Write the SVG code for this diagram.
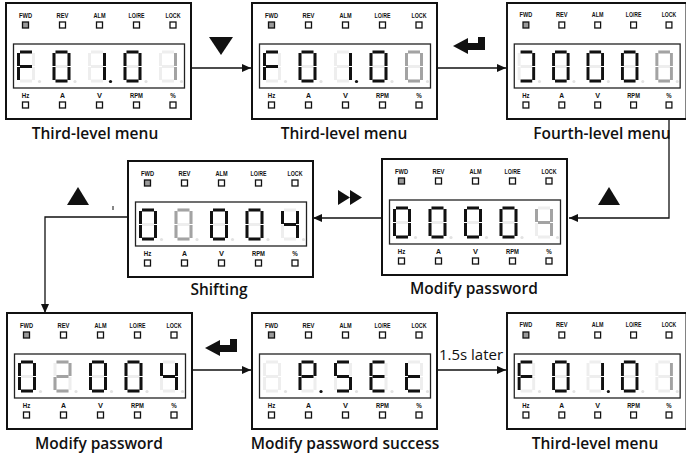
<svg xmlns="http://www.w3.org/2000/svg" xmlns:xlink="http://www.w3.org/1999/xlink" width="686" height="458" viewBox="0 0 686 458">
<style>
.pf{fill:#fff;stroke:#111;stroke-width:2}
.disp{fill:#fff;stroke:#222;stroke-width:1.3}
.led{fill:#fff;stroke:#111;stroke-width:1.3}
.ledon{fill:#9a9a9a;stroke:#111;stroke-width:1.3}
.ind{font-family:"Liberation Sans",Arial,sans-serif;font-weight:bold;font-size:7.5px;fill:#111;text-anchor:middle}
.k{fill:#111}
.m{fill:#a3a3a3}
.cap{font-family:"Open Sans","Liberation Sans",sans-serif;font-weight:600;font-size:15.5px;fill:#111;text-anchor:middle}
.lbl{font-family:"Open Sans","Liberation Sans",sans-serif;font-size:15px;fill:#111;text-anchor:middle}
.cn{fill:none;stroke:#111;stroke-width:1.3}
.sym{fill:#111}
</style>
<defs>
<marker id="ah" markerUnits="userSpaceOnUse" markerWidth="10" markerHeight="9" refX="9" refY="4" orient="auto">
<path d="M0,0 L9,4 L0,8 Z" fill="#111"/>
</marker>
<rect id="sa" x="3" y="0" width="12" height="3"/>
<rect id="sb" x="15" y="2.5" width="3" height="13"/>
<rect id="sc" x="15" y="16.5" width="3" height="13"/>
<rect id="sd" x="3" y="29" width="12" height="3"/>
<rect id="se" x="0" y="16.5" width="3" height="13"/>
<rect id="sf" x="0" y="2.5" width="3" height="13"/>
<rect id="sg" x="3" y="14.5" width="12" height="3"/>
<circle id="sp" cx="22.5" cy="31" r="1.6"/>
<g id="d8" fill="#eeeeee">
<use href="#sa"/><use href="#sb"/><use href="#sc"/><use href="#sd"/><use href="#se"/><use href="#sf"/><use href="#sg"/><use href="#sp" fill="#e2e2e2"/>
</g>
<g id="frame">
<rect class="pf" x="0" y="0" width="185" height="116"/>
<text class="ind" x="19.5" y="14.5" textLength="13" lengthAdjust="spacingAndGlyphs">FWD</text>
<text class="ind" x="56.5" y="14.5" textLength="12" lengthAdjust="spacingAndGlyphs">REV</text>
<text class="ind" x="93.5" y="14.5" textLength="12" lengthAdjust="spacingAndGlyphs">ALM</text>
<text class="ind" x="130.5" y="14.5" textLength="16" lengthAdjust="spacingAndGlyphs">LO/RE</text>
<text class="ind" x="167" y="14.5" textLength="15" lengthAdjust="spacingAndGlyphs">LOCK</text>
<rect class="ledon" x="16.5" y="19" width="6" height="6"/>
<rect class="led" x="53.5" y="19" width="6" height="6"/>
<rect class="led" x="90.5" y="19" width="6" height="6"/>
<rect class="led" x="127.5" y="19" width="6" height="6"/>
<rect class="led" x="164" y="19" width="6" height="6"/>
<rect class="disp" x="7.5" y="41" width="171" height="44"/>
<text class="ind" x="19.5" y="95" textLength="7.5" lengthAdjust="spacingAndGlyphs">Hz</text>
<text class="ind" x="56.5" y="95" textLength="5" lengthAdjust="spacingAndGlyphs">A</text>
<text class="ind" x="93.5" y="95" textLength="5" lengthAdjust="spacingAndGlyphs">V</text>
<text class="ind" x="130.5" y="95" textLength="13" lengthAdjust="spacingAndGlyphs">RPM</text>
<text class="ind" x="167" y="95" textLength="5.5" lengthAdjust="spacingAndGlyphs">%</text>
<rect class="led" x="16.5" y="99" width="6" height="6"/>
<rect class="led" x="53.5" y="99" width="6" height="6"/>
<rect class="led" x="90.5" y="99" width="6" height="6"/>
<rect class="led" x="127.5" y="99" width="6" height="6"/>
<rect class="led" x="164" y="99" width="6" height="6"/>
</g>
<path id="enter" d="M0,9 L15,1 L15,6 L25,6 L25,0 L32,0 L32,13 L15,13 L15,17 Z"/>
</defs>

<g id="connectors">
<line class="cn" x1="191" y1="68" x2="251" y2="68" marker-end="url(#ah)"/>
<line class="cn" x1="436" y1="68" x2="506" y2="68" marker-end="url(#ah)"/>
<polyline class="cn" points="669,118 669,218 569,218" marker-end="url(#ah)"/>
<line class="cn" x1="382" y1="218" x2="313" y2="218" marker-end="url(#ah)"/>
<polyline class="cn" points="128,217 45,217 45,313" marker-end="url(#ah)"/>
<line class="cn" x1="193" y1="370" x2="251" y2="370" marker-end="url(#ah)"/>
<line class="cn" x1="436" y1="370" x2="506" y2="370" marker-end="url(#ah)"/>
<polygon class="sym" points="209,37 233,37 221,55"/>
<use class="sym" href="#enter" transform="translate(453,37)"/>
<polygon class="sym" points="598,205 620,205 609,187"/>
<polygon class="sym" points="338,190 350,197.5 338,205"/>
<polygon class="sym" points="350,190 362,197.5 350,205"/>
<polygon class="sym" points="67,205 89,205 78,187"/>
<rect class="sym" x="112.5" y="206" width="1" height="4"/>
<use class="sym" href="#enter" transform="translate(205,339)"/>
<text class="lbl" x="471" y="360">1.5s later</text>
</g>

<g id="n1">
<g transform="translate(6,3)">
<use href="#frame"/>
<g transform="translate(11,47.5)"><use href="#d8"/><use class="k" href="#sa"/><use class="k" href="#sf"/><use class="k" href="#sg"/><use class="k" href="#se"/></g>
<g transform="translate(46.5,47.5)"><use href="#d8"/><use class="k" href="#sa"/><use class="k" href="#sb"/><use class="k" href="#sc"/><use class="k" href="#sd"/><use class="k" href="#se"/><use class="k" href="#sf"/></g>
<g transform="translate(82,47.5)"><use href="#d8"/><use class="k" href="#sb"/><use class="k" href="#sc"/><use class="k" href="#sp"/></g>
<g transform="translate(117.5,47.5)"><use href="#d8"/><use class="k" href="#sa"/><use class="k" href="#sb"/><use class="k" href="#sc"/><use class="k" href="#sd"/><use class="k" href="#se"/><use class="k" href="#sf"/></g>
<g transform="translate(153,47.5)"><use href="#d8"/><use class="m" href="#sb"/><use class="m" href="#sc"/></g>
</g>
<text class="cap" x="95" y="139">Third-level menu</text>
</g>

<g id="n2">
<g transform="translate(252,3)">
<use href="#frame"/>
<g transform="translate(11,47.5)"><use href="#d8"/><use class="k" href="#sa"/><use class="k" href="#sf"/><use class="k" href="#sg"/><use class="k" href="#se"/></g>
<g transform="translate(46.5,47.5)"><use href="#d8"/><use class="k" href="#sa"/><use class="k" href="#sb"/><use class="k" href="#sc"/><use class="k" href="#sd"/><use class="k" href="#se"/><use class="k" href="#sf"/></g>
<g transform="translate(82,47.5)"><use href="#d8"/><use class="k" href="#sb"/><use class="k" href="#sc"/><use class="k" href="#sp"/></g>
<g transform="translate(117.5,47.5)"><use href="#d8"/><use class="k" href="#sa"/><use class="k" href="#sb"/><use class="k" href="#sc"/><use class="k" href="#sd"/><use class="k" href="#se"/><use class="k" href="#sf"/></g>
<g transform="translate(153,47.5)"><use href="#d8"/><use class="m" href="#sa"/><use class="m" href="#sb"/><use class="m" href="#sc"/><use class="m" href="#sd"/><use class="m" href="#se"/><use class="m" href="#sf"/></g>
</g>
<text class="cap" x="344" y="139">Third-level menu</text>
</g>

<g id="n3">
<g transform="translate(507,3) scale(0.97 1)">
<use href="#frame"/>
<g transform="translate(11,47.5)"><use href="#d8"/><use class="k" href="#sa"/><use class="k" href="#sb"/><use class="k" href="#sc"/><use class="k" href="#sd"/></g>
<g transform="translate(46.5,47.5)"><use href="#d8"/><use class="k" href="#sa"/><use class="k" href="#sb"/><use class="k" href="#sc"/><use class="k" href="#sd"/><use class="k" href="#se"/><use class="k" href="#sf"/></g>
<g transform="translate(82,47.5)"><use href="#d8"/><use class="k" href="#sa"/><use class="k" href="#sb"/><use class="k" href="#sc"/><use class="k" href="#sd"/><use class="k" href="#se"/><use class="k" href="#sf"/></g>
<g transform="translate(117.5,47.5)"><use href="#d8"/><use class="k" href="#sa"/><use class="k" href="#sb"/><use class="k" href="#sc"/><use class="k" href="#sd"/><use class="k" href="#se"/><use class="k" href="#sf"/></g>
<g transform="translate(153,47.5)"><use href="#d8"/><use class="m" href="#sa"/><use class="m" href="#sb"/><use class="m" href="#sc"/><use class="m" href="#sd"/><use class="m" href="#se"/><use class="m" href="#sf"/></g>
</g>
<text class="cap" x="602" y="139">Fourth-level menu</text>
</g>

<g id="n4">
<g transform="translate(382,159)">
<use href="#frame"/>
<g transform="translate(11,47.5)"><use href="#d8"/><use class="k" href="#sa"/><use class="k" href="#sb"/><use class="k" href="#sc"/><use class="k" href="#sd"/><use class="k" href="#se"/><use class="k" href="#sf"/></g>
<g transform="translate(46.5,47.5)"><use href="#d8"/><use class="k" href="#sa"/><use class="k" href="#sb"/><use class="k" href="#sc"/><use class="k" href="#sd"/><use class="k" href="#se"/><use class="k" href="#sf"/></g>
<g transform="translate(82,47.5)"><use href="#d8"/><use class="k" href="#sa"/><use class="k" href="#sb"/><use class="k" href="#sc"/><use class="k" href="#sd"/><use class="k" href="#se"/><use class="k" href="#sf"/></g>
<g transform="translate(117.5,47.5)"><use href="#d8"/><use class="k" href="#sa"/><use class="k" href="#sb"/><use class="k" href="#sc"/><use class="k" href="#sd"/><use class="k" href="#se"/><use class="k" href="#sf"/></g>
<g transform="translate(153,47.5)"><use href="#d8"/><use class="m" href="#sf"/><use class="m" href="#sg"/><use class="m" href="#sb"/><use class="m" href="#sc"/></g>
</g>
<text class="cap" x="474" y="294">Modify password</text>
</g>

<g id="n5">
<g transform="translate(128,161)">
<use href="#frame"/>
<g transform="translate(11,47.5)"><use href="#d8"/><use class="k" href="#sa"/><use class="k" href="#sb"/><use class="k" href="#sc"/><use class="k" href="#sd"/><use class="k" href="#se"/><use class="k" href="#sf"/></g>
<g transform="translate(46.5,47.5)"><use href="#d8"/><use class="m" href="#sa"/><use class="m" href="#sb"/><use class="m" href="#sc"/><use class="m" href="#sd"/><use class="m" href="#se"/><use class="m" href="#sf"/></g>
<g transform="translate(82,47.5)"><use href="#d8"/><use class="k" href="#sa"/><use class="k" href="#sb"/><use class="k" href="#sc"/><use class="k" href="#sd"/><use class="k" href="#se"/><use class="k" href="#sf"/></g>
<g transform="translate(117.5,47.5)"><use href="#d8"/><use class="k" href="#sa"/><use class="k" href="#sb"/><use class="k" href="#sc"/><use class="k" href="#sd"/><use class="k" href="#se"/><use class="k" href="#sf"/></g>
<g transform="translate(153,47.5)"><use href="#d8"/><use class="k" href="#sf"/><use class="k" href="#sg"/><use class="k" href="#sb"/><use class="k" href="#sc"/></g>
</g>
<text class="cap" x="219" y="295">Shifting</text>
</g>

<g id="n6">
<g transform="translate(7,313)">
<use href="#frame"/>
<g transform="translate(11,47.5)"><use href="#d8"/><use class="k" href="#sa"/><use class="k" href="#sb"/><use class="k" href="#sc"/><use class="k" href="#sd"/><use class="k" href="#se"/><use class="k" href="#sf"/></g>
<g transform="translate(46.5,47.5)"><use href="#d8"/><use class="m" href="#sa"/><use class="m" href="#sb"/><use class="m" href="#sg"/><use class="m" href="#se"/><use class="m" href="#sd"/></g>
<g transform="translate(82,47.5)"><use href="#d8"/><use class="k" href="#sa"/><use class="k" href="#sb"/><use class="k" href="#sc"/><use class="k" href="#sd"/><use class="k" href="#se"/><use class="k" href="#sf"/></g>
<g transform="translate(117.5,47.5)"><use href="#d8"/><use class="k" href="#sa"/><use class="k" href="#sb"/><use class="k" href="#sc"/><use class="k" href="#sd"/><use class="k" href="#se"/><use class="k" href="#sf"/></g>
<g transform="translate(153,47.5)"><use href="#d8"/><use class="k" href="#sf"/><use class="k" href="#sg"/><use class="k" href="#sb"/><use class="k" href="#sc"/></g>
</g>
<text class="cap" x="99" y="449">Modify password</text>
</g>

<g id="n7">
<g transform="translate(252,313)">
<use href="#frame"/>
<g transform="translate(11,47.5)"><use href="#d8"/></g>
<g transform="translate(46.5,47.5)"><use href="#d8"/><use class="k" href="#sa"/><use class="k" href="#sb"/><use class="k" href="#sf"/><use class="k" href="#sg"/><use class="k" href="#se"/><use class="k" href="#sp"/></g>
<g transform="translate(82,47.5)"><use href="#d8"/><use class="k" href="#sa"/><use class="k" href="#sf"/><use class="k" href="#sg"/><use class="k" href="#sc"/><use class="k" href="#sd"/></g>
<g transform="translate(117.5,47.5)"><use href="#d8"/><use class="k" href="#sa"/><use class="k" href="#sf"/><use class="k" href="#sg"/><use class="k" href="#se"/><use class="k" href="#sd"/></g>
<g transform="translate(153,47.5)"><use href="#d8"/><use class="k" href="#sf"/><use class="k" href="#sg"/><use class="k" href="#se"/><use class="k" href="#sd"/></g>
</g>
<text class="cap" x="345" y="449">Modify password success</text>
</g>

<g id="n8">
<g transform="translate(507,313) scale(0.97 1)">
<use href="#frame"/>
<g transform="translate(11,47.5)"><use href="#d8"/><use class="k" href="#sa"/><use class="k" href="#sf"/><use class="k" href="#sg"/><use class="k" href="#se"/></g>
<g transform="translate(46.5,47.5)"><use href="#d8"/><use class="k" href="#sa"/><use class="k" href="#sb"/><use class="k" href="#sc"/><use class="k" href="#sd"/><use class="k" href="#se"/><use class="k" href="#sf"/></g>
<g transform="translate(82,47.5)"><use href="#d8"/><use class="k" href="#sb"/><use class="k" href="#sc"/><use class="k" href="#sp"/></g>
<g transform="translate(117.5,47.5)"><use href="#d8"/><use class="k" href="#sa"/><use class="k" href="#sb"/><use class="k" href="#sc"/><use class="k" href="#sd"/><use class="k" href="#se"/><use class="k" href="#sf"/></g>
<g transform="translate(153,47.5)"><use href="#d8"/><use class="m" href="#sb"/><use class="m" href="#sc"/></g>
</g>
<text class="cap" x="595" y="449">Third-level menu</text>
</g>
</svg>
